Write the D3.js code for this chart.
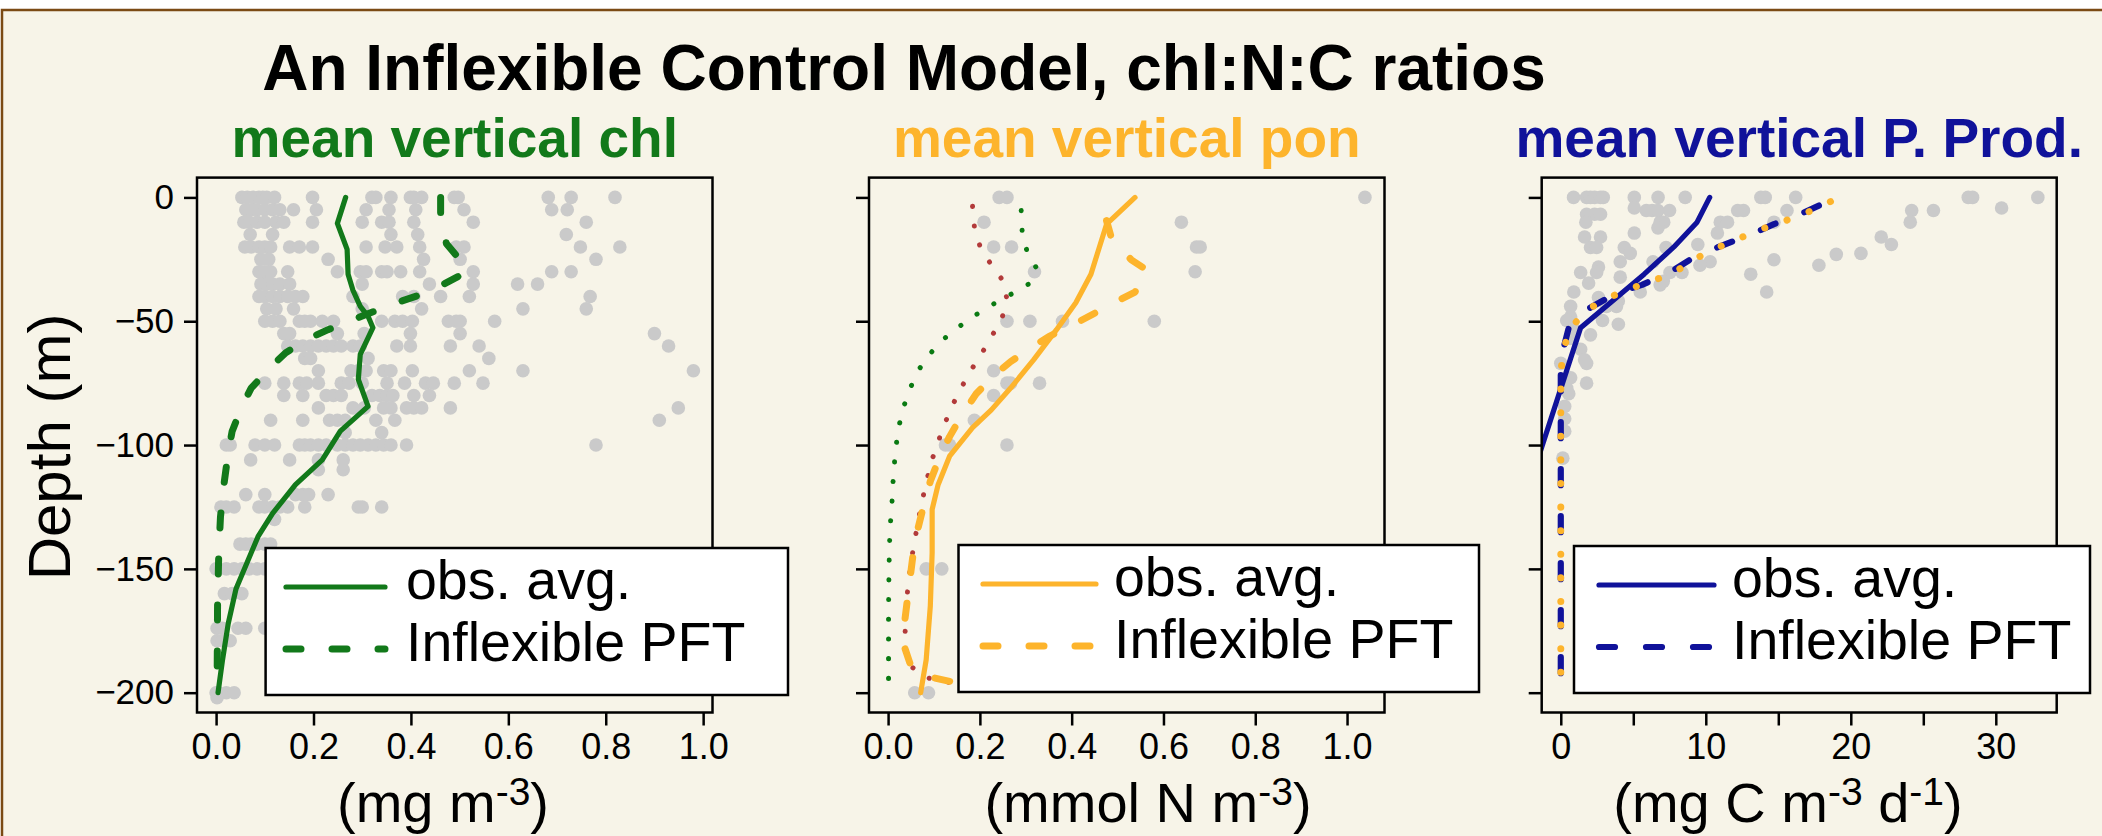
<!DOCTYPE html>
<html><head><meta charset="utf-8">
<script src="https://cdn.jsdelivr.net/npm/d3@7"></script>
<style>
html,body{margin:0;padding:0;background:#fff;}
svg{display:block;font-family:"Liberation Sans",Arial,Helvetica,sans-serif;}
</style></head><body>
<svg id="chart" width="2102" height="836"></svg>
<script>
// ---------------- DATA ----------------
const titleText = "An Inflexible Control Model, chl:N:C ratios";
const panelTitles = ["mean vertical chl", "mean vertical pon", "mean vertical P. Prod."];
const legendLabels = ["obs. avg.", "Inflexible PFT"];
const depthTicks = [0, -50, -100, -150, -200];
const chlTicks = [0, 0.2, 0.4, 0.6, 0.8, 1.0];
const ponTicks = [0, 0.2, 0.4, 0.6, 0.8, 1.0];
const ppTicks = [0, 5, 10, 15, 20, 25, 30];

// observations: [depth, [values...]]
const chlObs = [
 [0,[0.053,0.064,0.076,0.088,0.096,0.104,0.12,0.198,0.32,0.328,0.359,0.399,0.406,0.422,0.489,0.497,0.682,0.729,0.819]],
 [-5,[0.061,0.072,0.084,0.1,0.116,0.131,0.159,0.206,0.308,0.355,0.41,0.509,0.689,0.721]],
 [-10,[0.057,0.068,0.084,0.1,0.123,0.139,0.198,0.3,0.34,0.355,0.406,0.528,0.76]],
 [-15,[0.07,0.116,0.359,0.414,0.719]],
 [-20,[0.059,0.072,0.088,0.1,0.112,0.151,0.171,0.198,0.308,0.347,0.371,0.418,0.493,0.509,0.748,0.829]],
 [-25,[0.092,0.108,0.23,0.426,0.501,0.78]],
 [-30,[0.088,0.1,0.112,0.147,0.249,0.296,0.308,0.34,0.351,0.379,0.418,0.528,0.689,0.729]],
 [-35,[0.092,0.104,0.116,0.131,0.151,0.3,0.438,0.528,0.619,0.66]],
 [-40,[0.088,0.1,0.116,0.131,0.147,0.163,0.178,0.281,0.383,0.406,0.461,0.52,0.768]],
 [-45,[0.104,0.123,0.159,0.3,0.422,0.63,0.76]],
 [-50,[0.1,0.116,0.131,0.171,0.182,0.194,0.218,0.241,0.34,0.367,0.383,0.403,0.477,0.493,0.501,0.572]],
 [-55,[0.139,0.151,0.249,0.304,0.399,0.501,0.9]],
 [-60,[0.147,0.163,0.178,0.194,0.21,0.226,0.241,0.257,0.281,0.296,0.371,0.399,0.481,0.54,0.929]],
 [-65,[0.182,0.194,0.312,0.56]],
 [-70,[0.21,0.277,0.292,0.308,0.344,0.359,0.403,0.52,0.63,0.98]],
 [-75,[0.1,0.139,0.171,0.186,0.21,0.257,0.273,0.3,0.351,0.387,0.43,0.446,0.489,0.548]],
 [-80,[0.139,0.178,0.226,0.241,0.257,0.32,0.336,0.351,0.363,0.406,0.438]],
 [-85,[0.21,0.281,0.304,0.344,0.359,0.391,0.406,0.422,0.481,0.949]],
 [-90,[0.112,0.178,0.233,0.249,0.265,0.328,0.367,0.91]],
 [-95,[0.265,0.34]],
 [-100,[0.021,0.029,0.08,0.1,0.12,0.171,0.182,0.194,0.21,0.226,0.249,0.265,0.281,0.296,0.312,0.328,0.344,0.359,0.391,0.78]],
 [-106,[0.071,0.151,0.21,0.261]],
 [-110,[0.21,0.261]],
 [-120,[0.061,0.1,0.163,0.178,0.19,0.23]],
 [-125,[0.01,0.021,0.037,0.088,0.1,0.116,0.131,0.147,0.182,0.292,0.3,0.34]],
 [-130,[0.12]],
 [-140,[0.049,0.061,0.072,0.084,0.1,0.112]],
 [-150,[0,0.005,0.021,0.037,0.053,0.068,0.084,0.1]],
 [-160,[0.017,0.033,0.053]],
 [-174,[0.002,0.013,0.045,0.061,0.1]],
 [-179,[0.002,0.013,0.029]],
 [-200,[0,0.005,0.021,0.037]],
 [-202,[0.002]]
];
const ponObs = [
 [0,[0.242,0.259,1.039]],
 [-10,[0.209,0.639]],
 [-20,[0.23,0.269,0.672,0.68]],
 [-30,[0.319,0.669]],
 [-50,[0.259,0.309,0.38,0.58]],
 [-70,[0.23]],
 [-75,[0.259,0.267,0.33]],
 [-80,[0.23]],
 [-90,[0.188]],
 [-100,[0.125,0.134,0.259]],
 [-150,[0.083,0.117]],
 [-200,[0.058,0.088]]
];
const ppObs = [
 [0,[0.88,1.78,2.05,2.33,2.74,2.93,5.07,6.71,8.58,13.8,14.1,16.2,28.1,28.4,32.9]],
 [-4.3,[5.07,30.4]],
 [-5.3,[5.9,6.3,6.7,7.5,12.2,12.6,15.6,24.2,25.7]],
 [-6.8,[1.78,2.33,2.74]],
 [-10,[1.73,6.85,7.1,11.0,11.5,14.7,24.1]],
 [-12.3,[6.7]],
 [-14.4,[5.07,10.8]],
 [-16,[1.64,2.74,22.1]],
 [-19,[9.45,22.8]],
 [-20.2,[2.05,2.47,4.38,7.26]],
 [-22.6,[4.79,20.7]],
 [-23,[19.0]],
 [-25.2,[14.7]],
 [-26,[4.1,6.36,10.3]],
 [-27.4,[9.6,17.8]],
 [-28.1,[2.6]],
 [-30.3,[1.37,2.47,7.53,8.36]],
 [-31,[13.1]],
 [-32.2,[4.1]],
 [-33.9,[7.07]],
 [-34.6,[1.92]],
 [-35.3,[6.85]],
 [-38.2,[0.9,5.48,14.2]],
 [-40.4,[2.6]],
 [-41.8,[3.97]],
 [-44,[0.68,3.15,3.84]],
 [-48.3,[0.68]],
 [-49.7,[0.41,2.88]],
 [-51.2,[3.97]],
 [-52.6,[0.82]],
 [-55.5,[2.05]],
 [-57,[0.68]],
 [-61.3,[1.37]],
 [-65.6,[1.64]],
 [-67,[0,1.78]],
 [-72.8,[0.68]],
 [-75,[1.78]],
 [-77.1,[0.41]],
 [-79.3,[0.55]],
 [-84.4,[0.27]],
 [-89.4,[0.27]],
 [-94.4,[0.27]],
 [-105.3,[0.14]]
];

// profiles: [depth, value]
const chlObsAvg = [[0,0.266],[-10.5,0.249],[-21,0.269],[-31,0.271],[-37.5,0.281],[-44,0.296],[-48,0.312],[-52.6,0.322],[-63.4,0.296],[-73.5,0.292],[-84.4,0.312],[-94.4,0.255],[-106,0.218],[-116,0.163],[-127.6,0.116],[-137,0.086],[-158,0.041],[-172,0.025],[-187,0.013],[-200,0.004]];
const chlModel = [[0,0.461],[-8.7,0.461],[-18.7,0.473],[-25,0.5],[-30,0.515],[-35.5,0.463],[-39.7,0.414],[-42.2,0.375],[-47.6,0.304],[-53.4,0.23],[-57,0.19],[-62.7,0.143],[-68.5,0.112],[-77,0.072],[-84.4,0.053],[-94.4,0.033],[-103,0.025],[-114.6,0.017],[-129,0.009],[-143.5,0.0055],[-165,0.003],[-200,0.002]];

const ponObsAvg = [[0,0.538],[-10.8,0.476],[-31,0.442],[-42.5,0.409],[-53.4,0.367],[-65.6,0.317],[-77,0.267],[-85.8,0.225],[-93,0.184],[-104.5,0.134],[-116,0.109],[-126,0.096],[-143.5,0.096],[-165,0.092],[-186.7,0.083],[-200,0.071]];
const ponModel = [[-9.4,0.476],[-17.3,0.488],[-25.2,0.53],[-29.6,0.566],[-38.2,0.538],[-41.8,0.5],[-47.6,0.442],[-51.2,0.405],[-56.2,0.35],[-60.6,0.313],[-66.3,0.267],[-72,0.23],[-79.3,0.192],[-87.2,0.163],[-96.6,0.134],[-104.5,0.113],[-114.6,0.092],[-123.3,0.079],[-139,0.058],[-156.5,0.046],[-173,0.035],[-180,0.033],[-190,0.051],[-193.5,0.087],[-196,0.149],[-199.6,0.287]];
const ponGreenDotted = [[-5.3,0.29],[-13.4,0.292],[-21.3,0.302],[-28.5,0.323],[-35,0.306],[-39,0.269],[-43,0.23],[-47.3,0.192],[-52,0.156],[-57.2,0.121],[-63.2,0.091],[-69.8,0.066],[-77.1,0.048],[-85,0.033],[-92.9,0.023],[-101,0.017],[-109,0.013],[-117,0.01],[-125.4,0.008],[-133.7,0.004],[-141.7,0.003],[-150,0.002],[-166,0.001],[-199,0.001]];
const ponRedDotted = [[-3.6,0.184],[-11.8,0.188],[-19.6,0.2],[-26.7,0.223],[-33.3,0.249],[-41,0.259],[-48.9,0.248],[-56,0.226],[-63,0.204],[-70,0.18],[-77,0.159],[-84.4,0.139],[-92,0.122],[-99.8,0.107],[-107.4,0.093],[-115.4,0.083],[-123.4,0.073],[-131.4,0.065],[-139.4,0.057],[-147.5,0.05],[-155.7,0.044],[-163.8,0.04],[-172,0.038],[-180,0.036],[-188,0.042],[-193.5,0.076],[-195.6,0.119],[-198,0.25]];

const ppObsAvg = [[0,10.27],[-10,9.4],[-20,7.8],[-31,5.75],[-42.5,3.42],[-52.6,1.37],[-101,-1.32],[-130,-2.9]];
const ppModel = [[-3.3,17.8],[-6.5,16.6],[-10.8,14.7],[-13.7,13.6],[-20.2,10.8],[-25.2,8.9],[-30.3,7.5],[-35.3,5.6],[-36.8,4.8],[-40.4,3.3],[-45.4,1.78],[-49,0.96],[-52.6,0.55],[-62,0.14],[-71.4,0],[-200,0]];
const ppAltDotted = [[-1.7,18.6],[-5.8,17.1],[-9.4,15.5],[-12.7,13.9],[-16.3,12.4],[-20.3,10.8],[-24.7,9.3],[-30,7.9],[-33.6,6.4],[-36.8,4.8],[-40.5,3.3],[-45.4,1.8],[-52.8,0.68],[-62,0.14],[-71.8,0],[-200,0]];

// ---------------- STYLE / LAYOUT ----------------
const GREEN = "#12791a", ORANGE = "#fdb42c", NAVY = "#10129a", RED = "#b23a3a", DKGREEN = "#0a7a12";
const GREY = "#cacaca", BG = "#f7f4e8";

const svg = d3.select("#chart");
svg.append("rect").attr("x",0).attr("y",0).attr("width",2102).attr("height",836).attr("fill","#fff");
svg.append("rect").attr("x",2).attr("y",10).attr("width",2300).attr("height",1000)
  .attr("fill",BG).attr("stroke","#7b4a14").attr("stroke-width",2.5);

svg.append("text").attr("x",904).attr("y",90).attr("text-anchor","middle")
  .attr("font-size",64).attr("font-weight","bold").attr("fill","#000").text(titleText);

const yTop = 177.6, yBot = 712.5;
const y = d3.scaleLinear().domain([-208, 8]).range([yBot, yTop]);

const dashed = {w:7, dash:"15,31", cap:"round"};
const solid = {w:5.2, dash:null, cap:"round"};

const panels = [
  { x: d3.scaleLinear().domain([-0.0392,1.0192]).range([197,712.5]),
    ticks: chlTicks, fmt: d3.format(".1f"), obs: chlObs, color: GREEN, title: panelTitles[0],
    lines: [
      {data: chlObsAvg, color: GREEN, ...solid},
      {data: chlModel, color: GREEN, ...dashed}
    ],
    legend: {L:265.6, R:788, lx1:286, lx2:385, tx:406, T:548},
    xlab: [["(mg m"],["-3",1],[")"]], xlabX: 443 },
  { x: d3.scaleLinear().domain([-0.0416,1.0816]).range([869,1384.5]),
    ticks: ponTicks, fmt: d3.format(".1f"), obs: ponObs, color: ORANGE, title: panelTitles[1],
    lines: [
      {data: ponGreenDotted, color: DKGREEN, w:5, dash:"0.1,19.6", cap:"round"},
      {data: ponRedDotted, color: RED, w:5, dash:"0.1,19.6", cap:"round"},
      {data: ponObsAvg, color: ORANGE, ...solid},
      {data: ponModel, color: ORANGE, ...dashed}
    ],
    legend: {L:958.5, R:1479, lx1:983, lx2:1096, tx:1114, T:545},
    xlab: [["(mmol N m"],["-3",1],[")"]], xlabX: 1148 },
  { x: d3.scaleLinear().domain([-1.316,34.2]).range([1541.7,2056.7]),
    ticks: ppTicks, fmt: d => (d % 10 === 0 ? d3.format("d")(d) : ""), obs: ppObs, color: NAVY, title: panelTitles[2],
    lines: [
      {data: ppObsAvg, color: NAVY, ...solid},
      {data: ppModel, color: NAVY, w:6.2, dash:"16,31", cap:"round"},
      {data: ppAltDotted, color: ORANGE, w:7, dash:"0.1,23.5", cap:"round"}
    ],
    legend: {L:1574, R:2090, lx1:1599, lx2:1714, tx:1732, T:546},
    xlab: [["(mg C m"],["-3",1],[" d"],["-1",1],[")"]], xlabX: 1788 }
];

panels.forEach((p, i) => {
  const [x0, x1] = p.x.range();
  const g = svg.append("g");
  const clipId = "clip" + i;
  svg.append("defs").append("clipPath").attr("id", clipId)
    .append("rect").attr("x", x0).attr("y", yTop).attr("width", x1 - x0).attr("height", yBot - yTop);

  const data = g.append("g").attr("clip-path", `url(#${clipId})`);
  const pts = p.obs.flatMap(([d, vals]) => vals.map(v => [d, v]));
  data.selectAll("circle").data(pts).join("circle")
    .attr("cx", d => p.x(d[1])).attr("cy", d => y(d[0])).attr("r", 6.8).attr("fill", GREY);

  const line = d3.line().x(d => p.x(d[1])).y(d => y(d[0]));
  p.lines.forEach(l => {
    data.append("path").attr("d", line(l.data)).attr("fill","none")
      .attr("stroke", l.color).attr("stroke-width", l.w)
      .attr("stroke-linecap", l.cap).attr("stroke-linejoin","round")
      .attr("stroke-dasharray", l.dash);
  });

  // box
  g.append("rect").attr("x", x0).attr("y", yTop).attr("width", x1 - x0).attr("height", yBot - yTop)
    .attr("fill","none").attr("stroke","#000").attr("stroke-width",2.5);

  // x axis
  const xa = g.append("g").attr("transform", `translate(0,${yBot})`)
    .call(d3.axisBottom(p.x).tickValues(p.ticks).tickFormat(p.fmt).tickSize(13).tickPadding(8));
  xa.select(".domain").remove();
  xa.selectAll(".tick line").attr("stroke","#000").attr("stroke-width",2.5);
  xa.selectAll(".tick text").attr("font-size",36).attr("fill","#000").attr("font-family","Liberation Sans, Arial, sans-serif");

  // y axis
  const ya = g.append("g").attr("transform", `translate(${x0},0)`)
    .call(d3.axisLeft(y).tickValues(depthTicks).tickFormat(i === 0 ? d3.format("d") : () => "").tickSize(13).tickPadding(10));
  ya.select(".domain").remove();
  ya.selectAll(".tick line").attr("stroke","#000").attr("stroke-width",2.5);
  ya.selectAll(".tick text").attr("font-size",35).attr("fill","#000").attr("font-family","Liberation Sans, Arial, sans-serif");

  // subtitle
  svg.append("text").attr("x", (x0 + x1) / 2).attr("y", 157).attr("text-anchor","middle")
    .attr("font-size",55).attr("font-weight","bold").attr("fill", p.color).text(p.title);

  // x label
  const xt = svg.append("text").attr("x", p.xlabX).attr("y", 822).attr("text-anchor","middle")
    .attr("font-size",56).attr("fill","#000");
  let raised = false;
  p.xlab.forEach(([t, sup]) => {
    const ts = xt.append("tspan").text(t);
    if (sup && !raised) { ts.attr("font-size",39).attr("dy",-17); raised = true; }
    else if (!sup && raised) { ts.attr("dy",17); raised = false; }
    else if (sup) { ts.attr("font-size",39); }
  });

  // legend
  const lg = p.legend;
  const leg = svg.append("g");
  leg.append("rect").attr("x", lg.L).attr("y", lg.T).attr("width", lg.R - lg.L).attr("height", 147)
    .attr("fill","#fff").attr("stroke","#000").attr("stroke-width",2.5);
  const legStyles = [p.lines.find(l => l.dash === null), p.lines.find(l => l.dash && l.w >= 6)];
  legStyles.forEach((l, k) => {
    const yy = lg.T + 39 + k * 62;
    leg.append("path").attr("d", d3.line()([[lg.lx1, yy],[lg.lx2, yy]]))
      .attr("stroke", l.color).attr("stroke-width", l.w).attr("fill","none")
      .attr("stroke-linecap","round").attr("stroke-dasharray", l.dash);
    leg.append("text").attr("x", lg.tx).attr("y", yy + 12).attr("font-size",55.5).attr("fill","#000")
      .text(legendLabels[k]);
  });
});

// y label
svg.append("text").attr("transform","translate(70,447) rotate(-90)").attr("text-anchor","middle")
  .attr("font-size",60).attr("fill","#000").text("Depth (m)");
</script></body></html>
